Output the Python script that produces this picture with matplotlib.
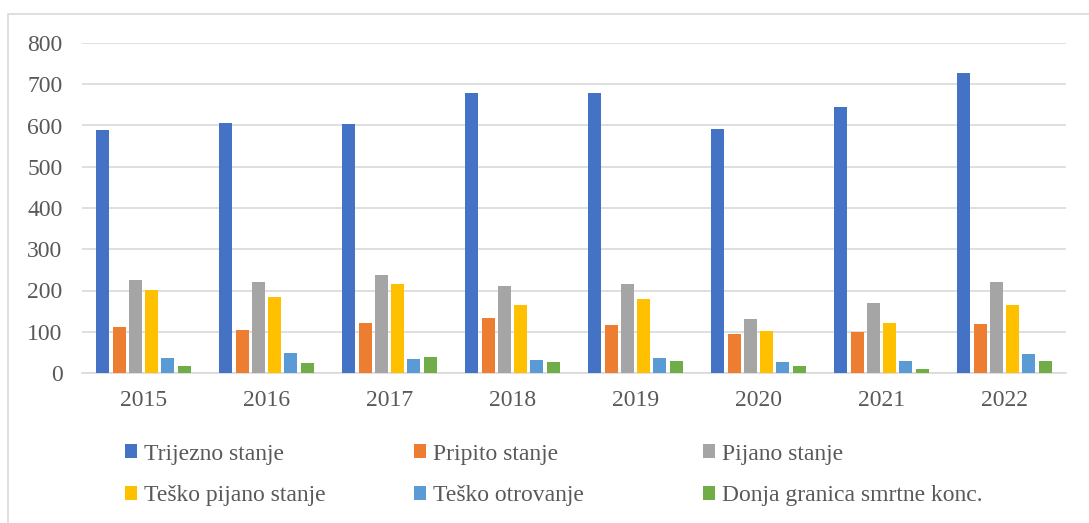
import matplotlib
matplotlib.use("Agg")
import matplotlib.pyplot as plt
import numpy as np
from matplotlib.patches import Rectangle, Patch

years = ["2015", "2016", "2017", "2018", "2019", "2020", "2021", "2022"]
series_names = ["Trijezno stanje", "Pripito stanje", "Pijano stanje",
                "Teško pijano stanje", "Teško otrovanje", "Donja granica smrtne konc."]
trijezno = [589, 606, 604, 680, 679, 592, 646, 727]
pripito = [111, 104, 122, 134, 117, 95, 100, 120]
pijano = [226, 221, 237, 212, 216, 130, 170, 221]
tesko_pijano = [202, 184, 216, 164, 179, 103, 121, 164]
tesko_otrovanje = [37, 48, 34, 31, 36, 26, 30, 45]
donja_granica = [16, 24, 38, 27, 29, 16, 9, 29]
colors = ["#4472C4", "#ED7D31", "#A5A5A5", "#FFC000", "#5B9BD5", "#70AD47"]

data = [trijezno, pripito, pijano, tesko_pijano, tesko_otrovanje, donja_granica]

plt.rcParams['font.family'] = ['Liberation Serif', 'DejaVu Serif']

W, H = 1089, 523
fig = plt.figure(figsize=(W / 100, H / 100), dpi=100)
fig.patch.set_facecolor("white")

# outer chart border
fig.patches.append(Rectangle((8 / W, -0.2), 1.2, 1 - 14 / H + 0.2, transform=fig.transFigure,
                             fill=False, edgecolor="#D9D9D9", linewidth=1.2, zorder=0))

ax = fig.add_axes([82 / W, 1 - 373 / H, (1066 - 82) / W, (373 - 43) / H])
x = np.arange(len(years))
step = 0.1325
width = 0.106
for i, (vals, c) in enumerate(zip(data, colors)):
    ax.bar(x + (i - 2.5) * step, vals, width=width, color=c, zorder=3)

ax.set_xlim(-0.5, len(years) - 0.5)
ax.set_ylim(0, 800)
ax.set_yticks(np.arange(0, 801, 100))
ax.set_xticks(x)
ax.set_xticklabels(years)
ax.yaxis.grid(True, color="#D9D9D9", linewidth=1.2, zorder=0)
ax.set_axisbelow(True)
for s in ["top", "right", "left"]:
    ax.spines[s].set_visible(False)
ax.spines["bottom"].set_color("#D9D9D9")
ax.spines["bottom"].set_linewidth(1.2)
ax.tick_params(axis="both", length=0, labelsize=17, labelcolor="#595959")
ax.tick_params(axis="y", pad=14)
ax.tick_params(axis="x", pad=12)

handles = [Patch(facecolor=c) for c in colors]
col_x = [126, 415, 704]
for j in range(3):
    hs = [handles[j], handles[j + 3]]
    ls = [series_names[j], series_names[j + 3]]
    fig.legend(hs, ls, loc="center left", bbox_to_anchor=((col_x[j] - 1) / W, 1 - 475 / H),
               frameon=False, fontsize=17, labelcolor="#595959",
               handlelength=0.52, handleheight=0.52, handletextpad=0.3,
               labelspacing=0.88, borderpad=0, borderaxespad=0)

fig.savefig("out.png", dpi=100)
